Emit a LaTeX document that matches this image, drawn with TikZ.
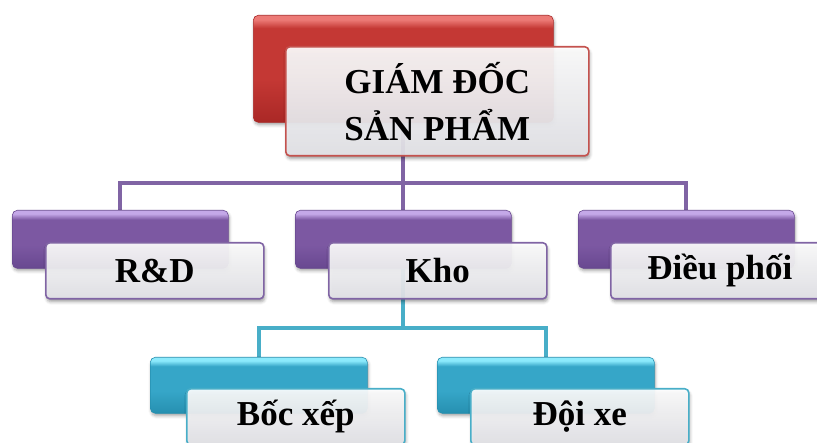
\documentclass[tikz,border=0pt]{standalone}
\usepackage{fontspec}
\setmainfont{Liberation Serif}
\usetikzlibrary{shadows.blur}
\pgfdeclarelayer{links}
\pgfsetlayers{links,main}

% palette
\definecolor{redM}{RGB}{196,56,52}
\definecolor{redL}{RGB}{236,122,118}
\definecolor{redD}{RGB}{170,40,38}
\definecolor{redE}{RGB}{196,82,78}
\definecolor{purM}{RGB}{124,88,162}
\definecolor{purL}{RGB}{196,168,232}
\definecolor{purD}{RGB}{104,72,144}
\definecolor{purE}{RGB}{128,100,164}
\definecolor{cyaM}{RGB}{54,166,200}
\definecolor{cyaL}{RGB}{140,234,252}
\definecolor{cyaD}{RGB}{38,144,176}
\definecolor{cyaE}{RGB}{72,174,200}
\definecolor{glassT}{RGB}{255,255,255}
\definecolor{glassB}{RGB}{228,228,233}

% bevelled fills for the coloured back plates (path spans 25bp..75bp)
\pgfdeclareverticalshading{redbev}{100bp}{color(0bp)=(redD); color(25bp)=(redD); color(45bp)=(redM); color(69bp)=(redM); color(73bp)=(redL); color(75bp)=(redL); color(100bp)=(redL)}
\pgfdeclareverticalshading{purbev}{100bp}{color(0bp)=(purD); color(25bp)=(purD); color(45bp)=(purM); color(67bp)=(purM); color(72bp)=(purL); color(75bp)=(purL); color(100bp)=(purL)}
\pgfdeclareverticalshading{cyabev}{100bp}{color(0bp)=(cyaD); color(25bp)=(cyaD); color(45bp)=(cyaM); color(67bp)=(cyaM); color(72bp)=(cyaL); color(75bp)=(cyaL); color(100bp)=(cyaL)}
\pgfdeclareverticalshading{glass}{100bp}{color(0bp)=(glassB); color(25bp)=(glassB); color(75bp)=(glassT); color(100bp)=(glassT)}

\tikzset{
  plate/.style={rectangle, rounded corners=5pt, inner sep=0pt, anchor=north west,
    blur shadow={shadow xshift=1pt, shadow yshift=-2.5pt, shadow blur radius=3pt, shadow opacity=35}},
  redplate/.style={plate, shading=redbev, draw=redD, line width=0.6pt},
  purplate/.style={plate, shading=purbev, draw=purD, line width=0.6pt},
  cyaplate/.style={plate, shading=cyabev, draw=cyaD, line width=0.6pt},
  card/.style={rectangle, rounded corners=4pt, inner sep=0pt, anchor=north west,
    shading=glass, fill opacity=0.92, text opacity=1, line width=1.6pt,
    align=center, font=\fontsize{35}{47}\selectfont\bfseries,
    blur shadow={shadow xshift=1pt, shadow yshift=-3pt, shadow blur radius=3pt, shadow opacity=40}},
  redcard/.style={card, draw=redE},
  purcard/.style={card, draw=purE},
  cyacard/.style={card, draw=cyaE},
  plink/.style={draw=purE, line width=4pt, line join=miter},
  clink/.style={draw=cyaE, line width=4pt, line join=miter},
}

\begin{document}
\begin{tikzpicture}[x=1pt, y=-1pt]
  \useasboundingbox (0,0) rectangle (817,443);
  \clip (0,0) rectangle (817,443);

  % head
  \node[redplate, minimum width=300, minimum height=107] (gdB) at (253,15) {};
  \node[redcard, minimum width=303, minimum height=109] (gd) at (285,46) {GIÁM ĐỐC\\SẢN PHẨM};

  % second level
  \node[purplate, minimum width=216, minimum height=58] (rdB) at (12,210) {};
  \node[purcard, minimum width=218, minimum height=56] (rd) at (45,242) {R\&D};
  \node[purplate, minimum width=216, minimum height=58] (khoB) at (295,210) {};
  \node[purcard, minimum width=218, minimum height=56] (kho) at (328,242) {Kho};
  \node[purplate, minimum width=216, minimum height=58] (dpB) at (578,210) {};
  \node[purcard, minimum width=218, minimum height=56] (dp) at (610,242) {Điều phối};

  % third level
  \node[cyaplate, minimum width=217, minimum height=56] (bxB) at (150,357) {};
  \node[cyacard, minimum width=218, minimum height=56] (bx) at (186,388) {Bốc xếp};
  \node[cyaplate, minimum width=217, minimum height=56] (dxB) at (437,357) {};
  \node[cyacard, minimum width=218, minimum height=56] (dx) at (470,388) {Đội xe};

  % connectors
  \coordinate (bus) at (0,183);
  \coordinate (bus2) at (0,328);
  \begin{pgfonlayer}{links}
    \draw[plink] (gdB.south) -- (gdB.south |- bus) -| (rdB.north);
    \draw[plink] (gdB.south |- bus) -| (dpB.north);
    \draw[plink] (gdB.south |- bus) -- (khoB.north);
    \draw[clink] (khoB.south) -- (khoB.south |- bus2) -| (bxB.north);
    \draw[clink] (khoB.south |- bus2) -| (dxB.north);
  \end{pgfonlayer}
\end{tikzpicture}
\end{document}
